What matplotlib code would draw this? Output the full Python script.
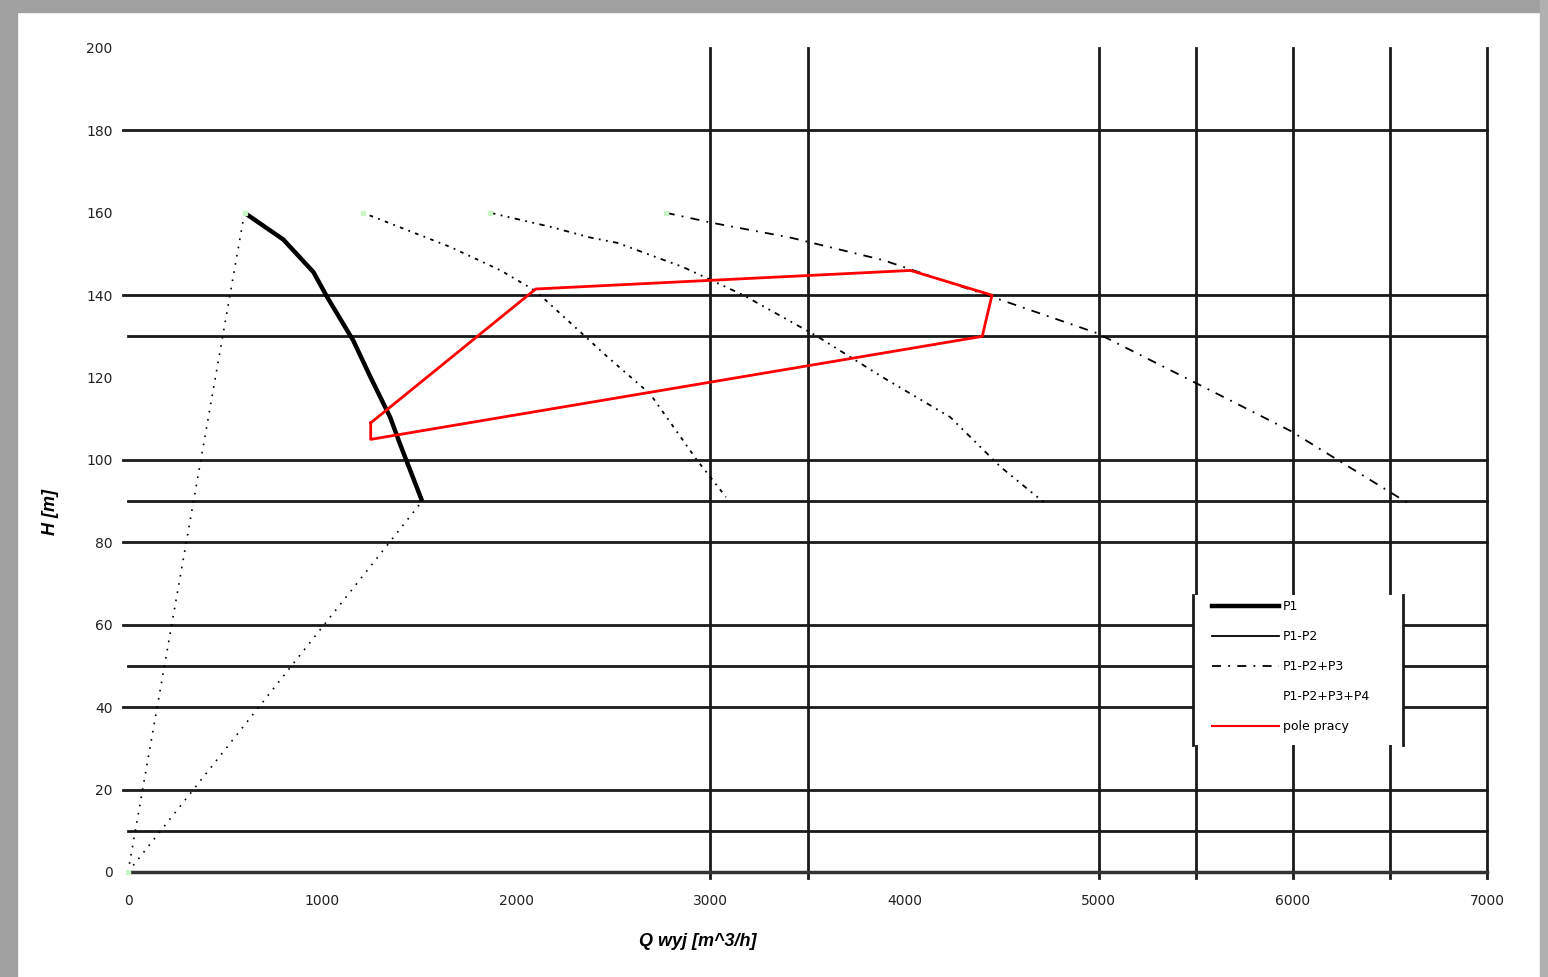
import matplotlib
matplotlib.use("Agg")
import matplotlib.pyplot as plt
from matplotlib.lines import Line2D
from matplotlib.patches import Rectangle

plt.rcParams['font.family'] = ['DejaVu Sans']

# ---- data ----
p1_q = [600, 800, 955, 1025, 1160, 1250, 1350, 1400, 1515]
p1_h = [160, 153.5, 145.6, 139.6, 129, 120, 110.4, 104, 90]

p2_q = [1210, 1660, 1920, 2100, 2470, 2690, 2930, 3080]
p2_h = [160, 151.7, 146, 141, 125, 116, 100, 91]

p3_q = [1865, 2175, 2380, 2520, 2860, 3170, 3550, 3890, 4235, 4495, 4715]
p3_h = [160, 156.6, 154, 152.7, 146.8, 140, 130, 120, 110.4, 98.3, 89.8]

p4_q = [2770, 3015, 3410, 3890, 4450, 4990, 5470, 5990, 6590]
p4_h = [160, 157.5, 154, 148.5, 139.6, 130.8, 119.4, 107, 89.6]

field_q = [1250, 1250, 4400, 4450, 4030, 2100, 1250]
field_h = [109, 105, 130, 140, 146, 141.5, 109]

h_lines = [10, 20, 40, 50, 60, 80, 90, 100, 130, 140, 180]
h_lines_long = [20, 40, 60, 80, 100, 140, 180]
v_lines = [3000, 3500, 5000, 5500, 6000, 6500, 7000]

x_ticks = [0, 1000, 2000, 3000, 4000, 5000, 6000, 7000]
y_ticks = [0, 20, 40, 60, 80, 100, 120, 140, 160, 180, 200]

labels = ["P1", "P1-P2", "P1-P2+P3", "P1-P2+P3+P4", "pole pracy"]

# ---- figure ----
fig = plt.figure(figsize=(15.48, 9.77), dpi=100)
fig.patch.set_facecolor('white')
fig.add_artist(Rectangle((0, 0), 0.011, 1, transform=fig.transFigure, color='#a0a0a0', zorder=0))
fig.add_artist(Rectangle((0, 0.988), 1, 0.012, transform=fig.transFigure, color='#a0a0a0', zorder=0))
fig.add_artist(Rectangle((0.995, 0), 0.005, 1, transform=fig.transFigure, color='#b0b0b0', zorder=0))

ax = fig.add_axes([0.0827, 0.1075, 0.8779, 0.8434])
ax.set_xlim(0, 7000)
ax.set_ylim(0, 200)
for s in ['top', 'right', 'left']:
    ax.spines[s].set_visible(False)
ax.spines['bottom'].set_linewidth(2.5)
ax.spines['bottom'].set_color('#333333')

for h in h_lines:
    x0 = -25 if h in h_lines_long else 0
    ax.plot([x0, 7000], [h, h], color='#1a1a1a', lw=2, clip_on=False, zorder=1)
for v in v_lines:
    ax.plot([v, v], [-1.5, 200], color='#1a1a1a', lw=2, clip_on=False, zorder=1)

ax.plot([0, p1_q[0]], [0, p1_h[0]], color='black', lw=1.2, ls=(0, (1, 4)), zorder=2)
ax.plot([0, p1_q[-1]], [0, p1_h[-1]], color='black', lw=1.2, ls=(0, (1, 4)), zorder=2)

ax.plot(p1_q, p1_h, color='black', lw=3.2, zorder=3, solid_capstyle='butt')
ax.plot(p2_q, p2_h, color='black', lw=1.3, ls=(0, (1, 3, 2, 3)), zorder=3)
ax.plot(p3_q, p3_h, color='black', lw=1.3, ls=(0, (3, 3, 1, 3, 1, 3)), zorder=3)
ax.plot(p4_q, p4_h, color='black', lw=1.3, ls=(0, (5, 4, 1, 4)), zorder=3)
ax.plot(field_q, field_h, color='red', lw=2, zorder=4)

ax.plot([0, p1_q[0], p2_q[0], p3_q[0], p4_q[0]], [0, p1_h[0], p2_h[0], p3_h[0], p4_h[0]],
        ls='none', marker='s', ms=3, color='#c8f5c8', zorder=5, clip_on=False)

ax.set_xticks(x_ticks)
ax.set_xticklabels([str(t) for t in x_ticks])
ax.set_yticks(y_ticks)
ax.set_yticklabels([str(t) for t in y_ticks])
ax.tick_params(axis='both', length=0, labelsize=10, colors='#222222')
ax.tick_params(axis='x', pad=16)
ax.tick_params(axis='y', pad=11)

ax.set_xlabel("Q wyj [m^3/h]", fontsize=13, fontweight='bold', fontstyle='italic',
              family=['Liberation Sans', 'DejaVu Sans'])
ax.xaxis.set_label_coords(0.419, -0.074)
ax.set_ylabel("H [m]", fontsize=13, fontweight='bold', fontstyle='italic',
              family=['Liberation Sans', 'DejaVu Sans'])
ax.yaxis.set_label_coords(-0.051, 0.437)

# legend box (white background with dark left/right edges)
ax.add_patch(Rectangle((0.7837, 0.1541), 0.1545, 0.182, transform=ax.transAxes,
                       facecolor='white', edgecolor='none', zorder=9, clip_on=False))
for xa in (0.7837, 0.7837 + 0.1545):
    ax.plot([xa, xa], [0.1541, 0.1541 + 0.182], transform=ax.transAxes, color='#1a1a1a',
            lw=2, zorder=9.5, clip_on=False)

handles = [
    Line2D([], [], color='black', lw=3.2),
    Line2D([], [], color='black', lw=1.3),
    Line2D([], [], color='black', lw=1.3, ls=(0, (5, 4, 1, 4))),
    Line2D([], [], color='white', lw=1.3),
    Line2D([], [], color='red', lw=1.5),
]
leg = ax.legend(handles, labels, loc='upper left', bbox_to_anchor=(0.7976, 0.3295),
                frameon=False, handlelength=5.4, labelspacing=1.36,
                borderpad=0, handletextpad=0.3, borderaxespad=0,
                prop={'family': 'DejaVu Sans', 'size': 9})
leg.set_zorder(10)

fig.savefig("out.png", dpi=100)
